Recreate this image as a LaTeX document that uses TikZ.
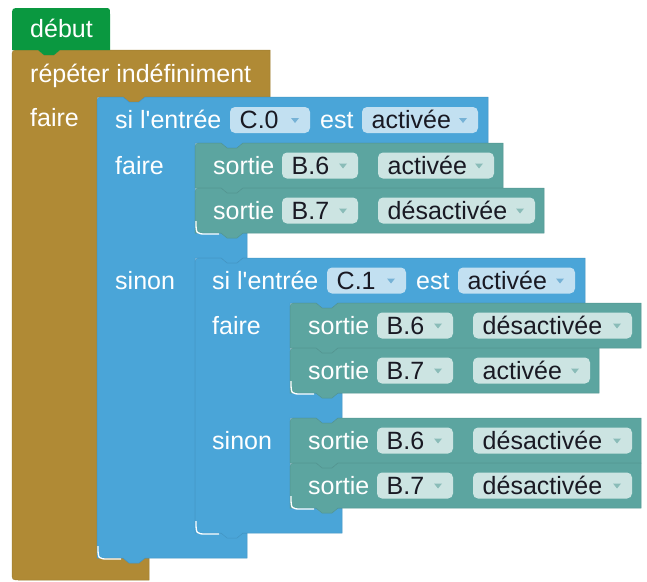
\documentclass[tikz,border=0pt]{standalone}
\usepackage{fontspec}
\setmainfont{Liberation Sans}
\usetikzlibrary{positioning}
\definecolor{debutgreen}{RGB}{10, 152, 64}
\definecolor{loopbrown}{RGB}{176, 138, 53}
\definecolor{ifblue}{RGB}{74, 165, 216}
\definecolor{outteal}{RGB}{92, 165, 160}
\definecolor{bluefield}{RGB}{194, 224, 241}
\definecolor{tealfield}{RGB}{204, 228, 226}
\definecolor{bluearrow}{RGB}{118, 178, 214}
\definecolor{tealarrow}{RGB}{138, 188, 184}
\definecolor{fieldtext}{RGB}{25, 25, 35}

% plain statement block: left, top, right, bottom, colour
\newcommand{\stmtblock}[5]{%
  \fill[#5, draw=#5!90!black, line width=0.5pt]
    ({#1},{#4}) -- ({#1},{#2+8}) .. controls ({#1},{#2}) .. ({#1+8},{#2})
    -- ({#1+26},{#2}) -- ({#1+32},{#2+5}) -- ({#1+42},{#2+5}) -- ({#1+48},{#2})
    -- ({#3},{#2}) -- ({#3},{#4})
    -- ({#1+48},{#4}) -- ({#1+42},{#4+5}) -- ({#1+32},{#4+5}) -- ({#1+26},{#4}) -- cycle;}

% if/else block: left, top, right, header bottom, inner left, arm 1 top, arm 1 bottom, arm 2 top, bottom
\newcommand{\ifelseblock}[9]{%
  \fill[ifblue, draw=ifblue!90!black, line width=0.5pt]
    ({#1},{#9}) -- ({#1},{#2+8}) .. controls ({#1},{#2}) .. ({#1+8},{#2})
    -- ({#1+26},{#2}) -- ({#1+32},{#2+5}) -- ({#1+42},{#2+5}) -- ({#1+48},{#2})
    -- ({#3},{#2}) -- ({#3},{#4})
    -- ({#5+48},{#4}) -- ({#5+42},{#4+5}) -- ({#5+32},{#4+5}) -- ({#5+26},{#4}) -- ({#5},{#4})
    -- ({#5},{#6-8}) .. controls ({#5},{#6}) .. ({#5+8},{#6}) -- ({#5+52},{#6}) -- ({#5+52},{#7})
    -- ({#5+48},{#7}) -- ({#5+42},{#7+5}) -- ({#5+32},{#7+5}) -- ({#5+26},{#7}) -- ({#5},{#7})
    -- ({#5},{#8-8}) .. controls ({#5},{#8}) .. ({#5+8},{#8}) -- ({#5+52},{#8}) -- ({#5+52},{#9})
    -- ({#1+48},{#9}) -- ({#1+42},{#9+5}) -- ({#1+32},{#9+5}) -- ({#1+26},{#9}) -- cycle;}

% dropdown field: name, left, right, row centre, text, blue/teal
\newcommand{\ddfield}[6]{%
  \fill[#6field, rounded corners=5pt] ({#2},{#4-13}) rectangle ({#3},{#4+13});
  \node[fieldlabel] (#1) at ({#2+9.5},{#4+8.5}) {#5};
  \fill[#6arrow] ({#3-19},{#4-2}) -- ({#3-11},{#4-2}) -- ({#3-15},{#4+3}) -- cycle;}

% output block: name, left, top, pin, value, value field right
\newcommand{\sortierow}[6]{%
  \stmtblock{#2}{#3}{#6+9}{#3+45}{outteal}
  \node[blocklabel] (#1) at ({#2+18},{#3+31}) {sortie};
  \ddfield{#1pin}{#2+87}{#2+163}{#3+22.5}{#4}{teal}
  \ddfield{#1val}{#2+183}{#6}{#3+22.5}{#5}{teal}}

\begin{document}
\begin{tikzpicture}[x=1pt, y=-1pt,
  blocklabel/.style={anchor=base west, inner sep=0pt, text=white, font=\fontsize{25}{30}\selectfont},
  fieldlabel/.style={anchor=base west, inner sep=0pt, text=fieldtext, font=\fontsize{25}{30}\selectfont},
  highlight/.style={white, line width=1.3pt}
]
\useasboundingbox (0,0) rectangle (647,581);

% repeat forever
\fill[loopbrown, draw=loopbrown!90!black, line width=0.5pt]
  (20,580) .. controls (12,580) .. (12,572) -- (12,58) .. controls (12,50) .. (20,50)
  -- (38,50) -- (44,55) -- (54,55) -- (60,50) -- (270,50) -- (270,97)
  -- (145,97) -- (139,102) -- (129,102) -- (123,97) -- (97,97)
  -- (97,550) .. controls (97,558) .. (105,558) -- (149,558) -- (149,580) -- cycle;
\node[blocklabel] (repeter) at (30,82) {répéter indéfiniment};
\node[blocklabel] (faire0) at (30,126) {faire};

% start
\fill[debutgreen] (12,50) -- (12,16) .. controls (12,8) .. (20,8) -- (104,8)
  .. controls (110,8) .. (110,14) -- (110,50)
  -- (60,50) -- (54,55) -- (44,55) -- (38,50) -- cycle;
\node[blocklabel] (debut) at (30,37.5) {début};

% if C.0
\ifelseblock{97}{97}{488}{143}{195}{233}{258}{533}{558}
\node[blocklabel] (si1) at (115,128.5) {si l\textquotesingle entrée};
\ddfield{in1}{230}{310}{120}{C.0}{blue}
\node[blocklabel] (est1) at (320,128.5) {est};
\ddfield{etat1}{362}{478}{120}{activée}{blue}
\node[blocklabel] (faire1) at (115,174) {faire};
\node[blocklabel] (sinon1) at (115,289) {sinon};

\sortierow{s1}{195}{143}{B.6}{activée}{494}
\sortierow{s2}{195}{188}{B.7}{désactivée}{535}

% if C.1
\ifelseblock{195}{258}{585}{303}{290}{393}{418}{508}{533}
\node[blocklabel] (si2) at (212,289) {si l\textquotesingle entrée};
\ddfield{in2}{327}{406}{280.5}{C.1}{blue}
\node[blocklabel] (est2) at (416,289) {est};
\ddfield{etat2}{458}{575}{280.5}{activée}{blue}
\node[blocklabel] (faire2) at (212,334) {faire};
\node[blocklabel] (sinon2) at (212,449) {sinon};

\sortierow{s3}{290}{303}{B.6}{désactivée}{632}
\sortierow{s4}{290}{348}{B.7}{activée}{590}
\sortierow{s5}{290}{418}{B.6}{désactivée}{632}
\sortierow{s6}{290}{463}{B.7}{désactivée}{632}

% inner corner highlights
\foreach \cx/\cy in {97/558, 195/233, 195/533, 290/393, 290/508}
  \draw[highlight] ({\cx+1},{\cy-12}) .. controls ({\cx+1},{\cy+1}) .. ({\cx+12},{\cy+1}) -- ({\cx+24},{\cy+1});
\end{tikzpicture}
\end{document}
